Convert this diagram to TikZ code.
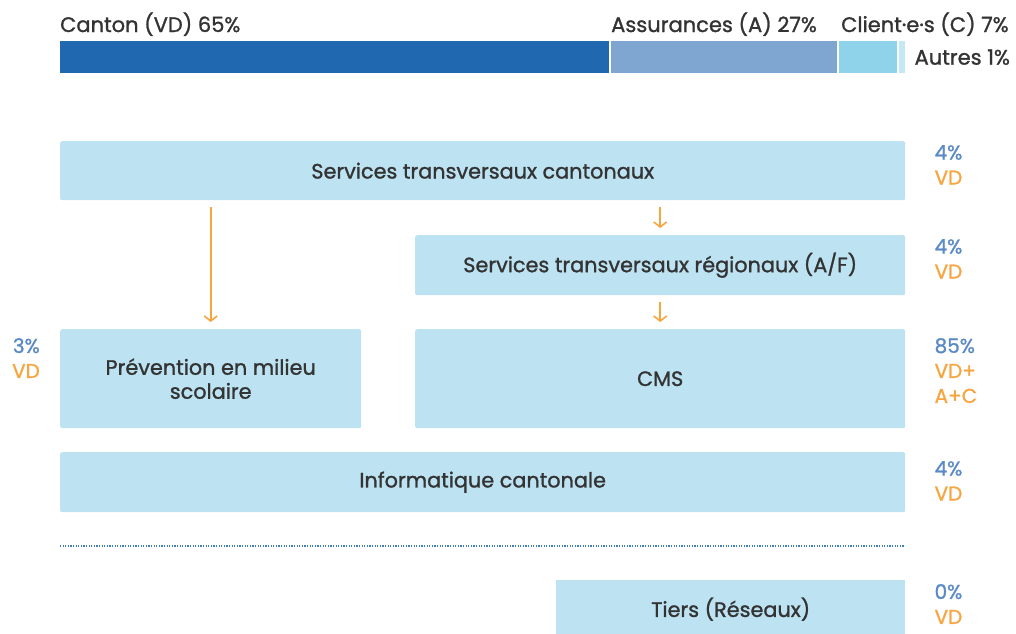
\documentclass[tikz,border=0pt]{standalone}
\usepackage{fontspec}
\setmainfont[Ligatures=NoCommon, FakeBold=1.2]{Poppins}
\usetikzlibrary{arrows.meta,positioning}

\definecolor{cantonblue}{HTML}{2068AF}
\definecolor{assurblue}{HTML}{7FA6D0}
\definecolor{clientblue}{HTML}{8FD3EA}
\definecolor{autreblue}{HTML}{C5E8F5}
\definecolor{boxfill}{HTML}{BDE3F2}
\definecolor{textgrey}{HTML}{333333}
\definecolor{pctblue}{HTML}{5B8AC6}
\definecolor{pctorange}{HTML}{F7A540}
\definecolor{dotblue}{HTML}{3F7FC0}

\begin{document}
\begin{tikzpicture}[x=1pt,y=-1pt]
  \tikzset{
    bar/.style={draw=none, inner sep=0pt, minimum height=32pt, anchor=north west},
    service/.style={fill=boxfill, rounded corners=2pt, inner sep=0pt, anchor=north west,
      text=textgrey, align=center, font=\fontsize{20.8}{24}\selectfont},
    barlabel/.style={text=textgrey, inner sep=0pt, font=\fontsize{21}{24}\selectfont},
    share/.style={inner sep=0pt, align=left, font=\fontsize{20}{25}\selectfont},
    myarrow/.style={-{Straight Barb[length=5pt,width=13pt]}, pctorange, line width=1.6pt,
      shorten >=7pt, shorten <=7pt},
  }
  \useasboundingbox (0,0) rectangle (1016,633);

  % financing bar
  \node[bar, fill=cantonblue, minimum width=549pt] (canton) at (60,41) {};
  \node[bar, fill=assurblue, minimum width=226pt] (assur) at (611,41) {};
  \node[bar, fill=clientblue, minimum width=58pt] (client) at (839,41) {};
  \node[bar, fill=autreblue, minimum width=6pt] (autre) at (899,41) {};

  \node[barlabel, anchor=base west] (cantonlbl) at ([yshift=9pt]canton.north west) {Canton (VD) 65\%};
  \node[barlabel, anchor=base west] (assurlbl) at ([yshift=9pt]assur.north west) {Assurances (A) 27\%};
  \node[barlabel, anchor=base west] (clientlbl) at ([xshift=2pt,yshift=9pt]client.north west) {Client·e·s (C) 7\%};
  \node[barlabel, anchor=west] (autrelbl) at ([xshift=9pt]autre.east) {Autres 1\%};

  % services
  \node[service, minimum width=845pt, minimum height=59pt] (cantonaux) at (60,141)
    {Services transversaux cantonaux};
  \node[service, minimum width=490pt, minimum height=60pt] (regionaux) at (415,235)
    {Services transversaux régionaux (A/F)};
  \node[service, minimum width=301pt, minimum height=99pt] (prevention) at (60,329)
    {Prévention en milieu\\scolaire};
  \node[service, minimum width=490pt, minimum height=99pt] (cms) at (415,329) {CMS};
  \node[service, minimum width=845pt, minimum height=60pt] (informatique) at (60,452)
    {Informatique cantonale};
  \node[service, rounded corners=0pt, minimum width=349pt, minimum height=60pt] (tiers) at (556,580)
    {\raisebox{6pt}{Tiers (Réseaux)}};

  % flows
  \draw[myarrow] (cantonaux.south -| prevention.north) -- (prevention.north);
  \draw[myarrow] (cantonaux.south -| regionaux.north) -- (regionaux.north);
  \draw[myarrow] (regionaux.south) -- (cms.north);

  % separator
  \coordinate (sepleft) at (60,546);
  \coordinate (sepright) at (905,546);
  \draw[dotblue, line width=1.6pt, dash pattern=on 1.2pt off 1.4pt] (sepleft) -- (sepright);

  % shares
  \node[share, anchor=north west] (pctcantonaux) at ([xshift=29pt,yshift=-4pt]cantonaux.north east)
    {\textcolor{pctblue}{4\%}\\\textcolor{pctorange}{VD}};
  \node[share, anchor=north west] (pctregionaux) at ([xshift=29pt,yshift=-4pt]regionaux.north east)
    {\textcolor{pctblue}{4\%}\\\textcolor{pctorange}{VD}};
  \node[share, anchor=north west] (pctcms) at ([xshift=29pt,yshift=-9pt]cms.north east)
    {\textcolor{pctblue}{85\%}\\\textcolor{pctorange}{VD+}\\\textcolor{pctorange}{A+C}};
  \node[share, anchor=north east, align=right] (pctprevention) at ([xshift=-20pt,yshift=-9pt]prevention.north west)
    {\textcolor{pctblue}{3\%}\\\textcolor{pctorange}{VD}};
  \node[share, anchor=north west] (pctinformatique) at ([xshift=29pt,yshift=-9pt]informatique.north east)
    {\textcolor{pctblue}{4\%}\\\textcolor{pctorange}{VD}};
  \node[share, anchor=north west] (pcttiers) at ([xshift=29pt,yshift=-4pt]tiers.north east)
    {\textcolor{pctblue}{0\%}\\\textcolor{pctorange}{VD}};
\end{tikzpicture}
\end{document}
